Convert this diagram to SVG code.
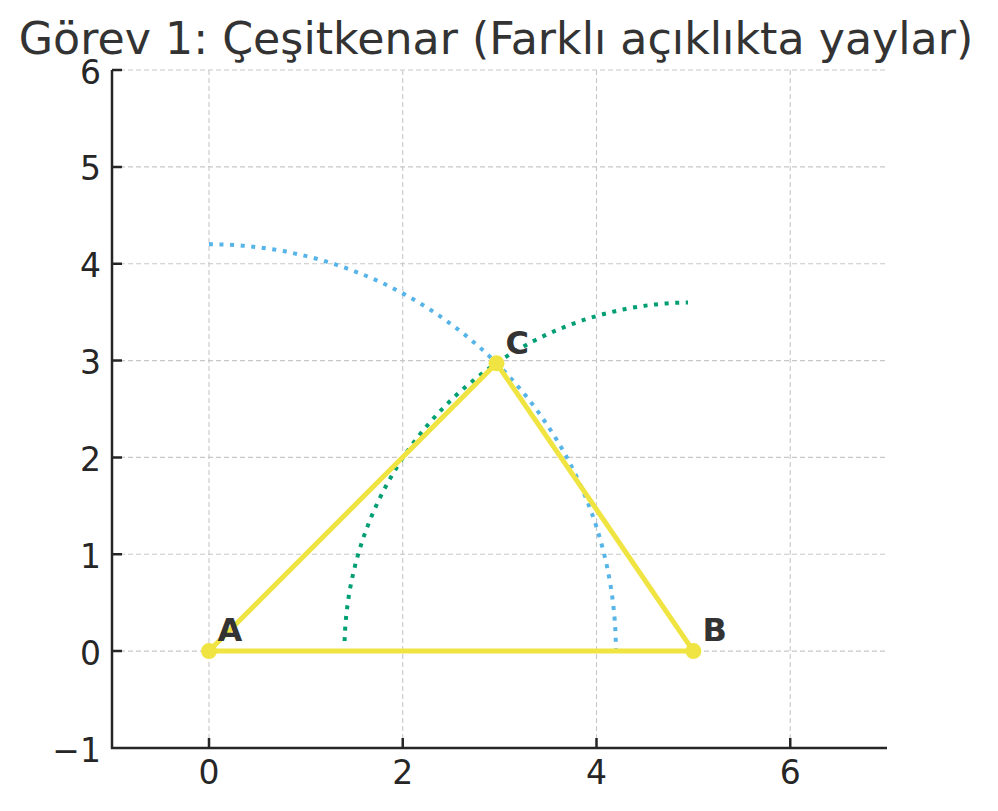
<svg xmlns="http://www.w3.org/2000/svg" width="998" height="811" viewBox="0 0 998 811">
<style>
.grid{stroke:#c8c8c8;stroke-width:1.1;stroke-dasharray:5 3;fill:none}
.spine{stroke:#262626;stroke-width:2.5;fill:none}
.tick{font-family:"DejaVu Sans",sans-serif;font-size:33px;fill:#262626}
.lbl{font-family:"DejaVu Sans",sans-serif;font-size:32px;font-weight:bold;fill:#333333}
.arc{fill:none;stroke-width:4;stroke-dasharray:4 6.6}
.tri{fill:none;stroke:#F0E442;stroke-width:5;stroke-linejoin:round}
.pt{fill:#F0E442}
</style>
<rect width="998" height="811" fill="#ffffff"/>
<text x="496" y="54" text-anchor="middle" font-family="DejaVu Sans, sans-serif" font-size="44.3" fill="#333333">Görev 1: Çeşitkenar (Farklı açıklıkta yaylar)</text>
<g id="grid">
<path class="grid" d="M209,70V748M402.75,70V748M596.5,70V748M790.25,70V748"/>
<path class="grid" d="M112,70H887M112,166.9H887M112,263.7H887M112,360.6H887M112,457.4H887M112,554.3H887M112,651.1H887"/>
</g>
<g id="axes">
<path class="spine" d="M112,70V748H887"/>
<path class="spine" d="M112,70h10M112,166.9h10M112,263.7h10M112,360.6h10M112,457.4h10M112,554.3h10M112,651.1h10M209,748v-10M402.75,748v-10M596.5,748v-10M790.25,748v-10"/>
<g class="tick" text-anchor="end">
<text x="101" y="83.5">6</text>
<text x="101" y="180.4">5</text>
<text x="101" y="277.2">4</text>
<text x="101" y="374.1">3</text>
<text x="101" y="470.9">2</text>
<text x="101" y="567.8">1</text>
<text x="101" y="664.6">0</text>
<text x="101" y="761.5">−1</text>
</g>
<g class="tick" text-anchor="middle">
<text x="209" y="784">0</text>
<text x="402.75" y="784">2</text>
<text x="596.5" y="784">4</text>
<text x="790.25" y="784">6</text>
</g>
</g>
<g id="connectors">
<path id="arcA" class="arc" stroke="#56B4E9" d="M209,244.3A406.9 406.8 0 0 1 615.9,651.1"/>
<path id="arcB" class="arc" stroke="#009E73" d="M344.6,641A348.75 348.7 0 0 1 688,302.4"/>
<path id="triangle" class="tri" d="M209,651.1L693.4,651.1L496.5,363.3Z"/>
</g>
<g id="nodeA"><circle class="pt" cx="209" cy="651.1" r="8"/><text class="lbl" x="217.5" y="641.4">A</text></g>
<g id="nodeB"><circle class="pt" cx="693.4" cy="651.1" r="8"/><text class="lbl" x="702.5" y="641.4">B</text></g>
<g id="nodeC"><circle class="pt" cx="496.5" cy="363.3" r="8"/><text class="lbl" x="505.5" y="353.6">C</text></g>
</svg>
